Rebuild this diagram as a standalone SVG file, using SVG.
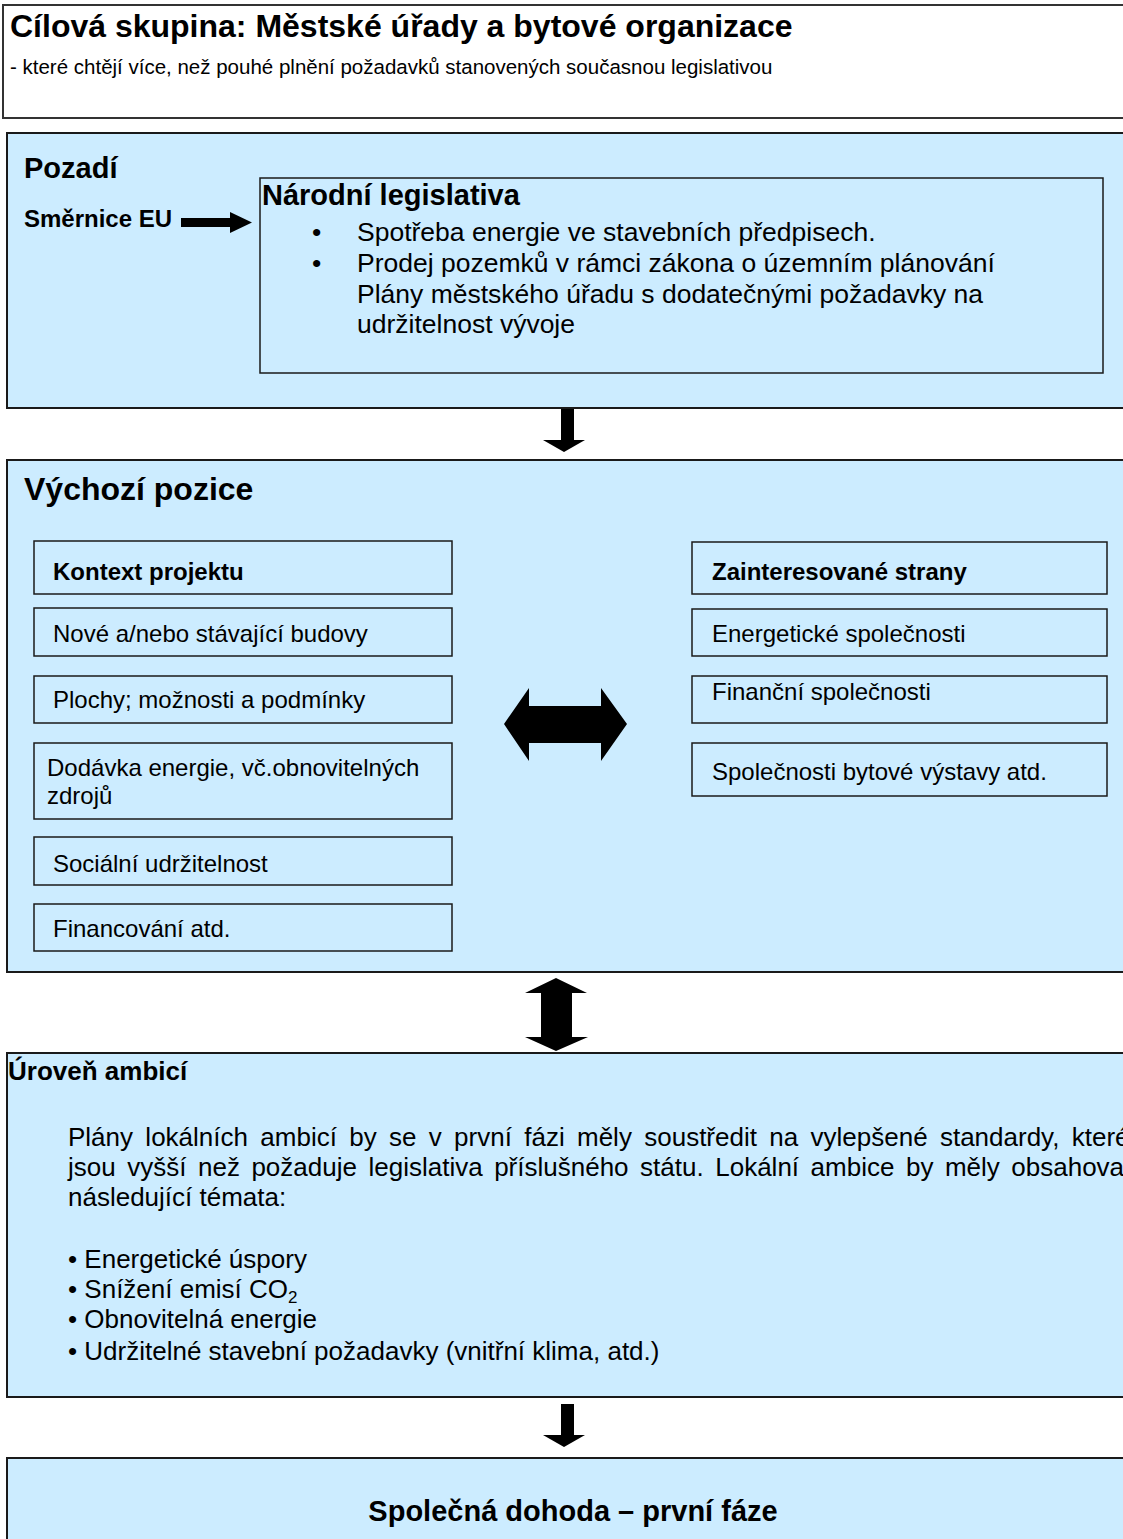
<svg xmlns="http://www.w3.org/2000/svg" width="1123" height="1539" viewBox="0 0 1123 1539">
<style>
.bg{fill:#ffffff}
.box{fill:#CCECFF;stroke:#1a1a1a;stroke-width:2}
.wbox{fill:#ffffff;stroke:#333333;stroke-width:2}
.ibox{fill:#CCECFF;stroke:#1a1a1a;stroke-width:1.5}
.arr{fill:#000000}
text{font-family:"Liberation Sans",Arial,Helvetica,sans-serif;fill:#000000}
.b{font-weight:bold}
.h1{font-size:32px;font-weight:bold}
.h2{font-size:29px;font-weight:bold}
.r26{font-size:26px}
.r24{font-size:24px}
.b24{font-size:24px;font-weight:bold}
</style>
<rect class="bg" x="0" y="0" width="1123" height="1539"/>

<g id="target">
<rect class="wbox" x="3" y="5" width="1130" height="113"/>
<text class="h1" x="10" y="37">Cílová skupina: Městské úřady a bytové organizace</text>
<text x="10" y="74" style="font-size:20.5px">- které chtějí více, než pouhé plnění požadavků stanovených současnou legislativou</text>
</g>

<g id="pozadi">
<rect class="box" x="7" y="133" width="1126" height="275"/>
<text class="h2" x="24" y="178">Pozadí</text>
<text class="b24" x="24" y="227">Směrnice EU</text>
</g>

<g id="narodni">
<rect class="ibox" x="260" y="178" width="843" height="195"/>
<text class="h2" x="262" y="205">Národní legislativa</text>
<text style="font-size:26.5px" x="312" y="241">•</text>
<text style="font-size:26.5px" x="357" y="241">Spotřeba energie ve stavebních předpisech.</text>
<text style="font-size:26.5px" x="312" y="272">•</text>
<text style="font-size:26.5px" x="357" y="272">Prodej pozemků v rámci zákona o územním plánování</text>
<text style="font-size:26.5px" x="357" y="303">Plány městského úřadu s dodatečnými požadavky na</text>
<text style="font-size:26.5px" x="357" y="333">udržitelnost vývoje</text>
</g>

<g id="vychozi">
<rect class="box" x="7" y="460" width="1126" height="512"/>
<text class="h1" x="24" y="500">Výchozí pozice</text>
</g>

<g id="kontext">
<rect class="ibox" x="34" y="541" width="418" height="53"/>
<text class="b24" x="53" y="580">Kontext projektu</text>
</g>
<g id="budovy">
<rect class="ibox" x="34" y="608" width="418" height="48"/>
<text class="r24" x="53" y="642">Nové a/nebo stávající budovy</text>
</g>
<g id="plochy">
<rect class="ibox" x="34" y="676" width="418" height="47"/>
<text class="r24" x="53" y="708">Plochy; možnosti a podmínky</text>
</g>
<g id="dodavka">
<rect class="ibox" x="34" y="743" width="418" height="76"/>
<text class="r24" x="47" y="776">Dodávka energie, vč.obnovitelných</text>
<text class="r24" x="47" y="804">zdrojů</text>
</g>
<g id="socialni">
<rect class="ibox" x="34" y="837" width="418" height="48"/>
<text class="r24" x="53" y="872">Sociální udržitelnost</text>
</g>
<g id="financovani">
<rect class="ibox" x="34" y="904" width="418" height="47"/>
<text class="r24" x="53" y="937">Financování atd.</text>
</g>

<g id="zainteresovane">
<rect class="ibox" x="692" y="542" width="415" height="52"/>
<text class="b24" x="712" y="580">Zainteresované strany</text>
</g>
<g id="energeticke">
<rect class="ibox" x="692" y="609" width="415" height="47"/>
<text class="r24" x="712" y="642">Energetické společnosti</text>
</g>
<g id="financni">
<rect class="ibox" x="692" y="676" width="415" height="47"/>
<text class="r24" x="712" y="700">Finanční společnosti</text>
</g>
<g id="bytove">
<rect class="ibox" x="692" y="743" width="415" height="53"/>
<text class="r24" x="712" y="780">Společnosti bytové výstavy atd.</text>
</g>

<g id="uroven">
<rect class="box" x="7" y="1053" width="1126" height="344"/>
<text x="8" y="1080" style="font-size:26px;font-weight:bold">Úroveň ambicí</text>
<text class="r26" x="68" y="1146" word-spacing="5.1">Plány lokálních ambicí by se v první fázi měly soustředit na vylepšené standardy, které</text>
<text class="r26" x="68" y="1176" word-spacing="4.3">jsou vyšší než požaduje legislativa příslušného státu. Lokální ambice by měly obsahovat</text>
<text class="r26" x="68" y="1206">následující témata:</text>
<text class="r26" x="68" y="1268">• Energetické úspory</text>
<text class="r26" x="68" y="1298">• Snížení emisí CO<tspan style="font-size:17px" dy="5">2</tspan></text>
<text class="r26" x="68" y="1328">• Obnovitelná energie</text>
<text class="r26" x="68" y="1360">• Udržitelné stavební požadavky (vnitřní klima, atd.)</text>
</g>

<g id="dohoda">
<rect class="box" x="7" y="1458" width="1126" height="100"/>
<text class="h2" x="573" y="1521" text-anchor="middle">Společná dohoda – první fáze</text>
</g>

<g id="connectors">
<polygon class="arr" points="181,218 230,218 230,212 252,222.5 230,233 230,227 181,227"/>
<polygon class="arr" points="561,409 574,409 574,440 585,440 564,452 543,440 561,440"/>
<polygon class="arr" points="504,724 529,688 529,706 601,706 601,688 627,724 601,761 601,743 529,743 529,761"/>
<polygon class="arr" points="556,978 587,993 572,993 572,1037 588,1037 556,1051 525,1037 541,1037 541,993 525,993"/>
<polygon class="arr" points="561,1404 574,1404 574,1435 585,1435 564,1447 543,1435 561,1435"/>
</g>
</svg>
